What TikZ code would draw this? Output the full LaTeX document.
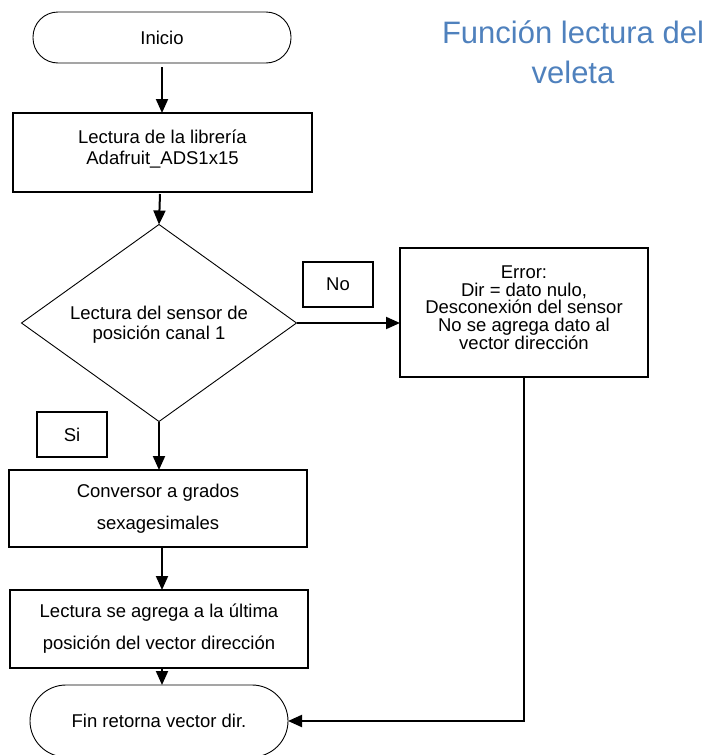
\documentclass[tikz,border=0pt]{standalone}
\usepackage{fontspec}
\setmainfont{Liberation Sans}
\usetikzlibrary{shapes.geometric,arrows.meta}
\definecolor{titleblue}{HTML}{4F81BD}
\tikzset{
  x=1pt,y=1pt,
  every node/.style={inner sep=0pt,outer sep=0pt,align=center},
  term/.style={draw,line width=0.9pt,rounded corners=#1,minimum width=258,font=\fontsize{18.5}{21}\selectfont},
  procbox/.style={draw,line width=2.2pt,font=\fontsize{18.5}{#1}\selectfont},
  labelbox/.style={draw,line width=1.6pt,minimum width=70,minimum height=45,font=\fontsize{18.5}{21}\selectfont},
  decision/.style={draw,line width=0.9pt,shape=diamond,aspect=1.396,minimum width=275,minimum height=197,font=\fontsize{18.5}{20}\selectfont},
  flow/.style={line width=2pt,-{Triangle[length=14pt,width=12pt]}}
}
\begin{document}
\begin{tikzpicture}
\useasboundingbox (0,0) rectangle (712,-755);
\node[term=25pt,minimum height=51] (inicio) at (162,-37.5) {Inicio};
\node[procbox=21.5,minimum width=299,minimum height=79,text depth=11pt] (lib) at (162.5,-152.5) {Lectura de la librería\\Adafruit\_ADS1x15};
\node[decision,text depth=-6pt] (dec) at (159,-323) {Lectura del sensor de\\posición canal 1};
\node[labelbox] (no) at (338,-284.5) {No};
\node[procbox=17.8,minimum width=248,minimum height=129,text depth=10pt] (err) at (524,-312.5) {Error:\\Dir = dato nulo,\\Desconexión del sensor\\No se agrega dato al\\vector dirección};
\node[labelbox] (si) at (72,-434.5) {Si};
\node[procbox=32,minimum width=298,minimum height=77] (conv) at (158,-508.5) {Conversor a grados\\sexagesimales};
\node[procbox=32,minimum width=298,minimum height=78] (agr) at (159,-629) {Lectura se agrega a la última\\posición del vector dirección};
\node[term=36pt,minimum height=72] (fin) at (159,-721) {Fin retorna vector dir.};
\node[anchor=base,text=titleblue,font=\fontsize{31}{40}\selectfont] (title) at (573,-83) {Función lectura del\\veleta};
\draw[flow] ([yshift=-4pt]inicio.south -| 162,0) -- (162,0 |- lib.north);
\draw[flow] ([yshift=-2pt]lib.south -| 160,0) -- (dec.north);
\draw[flow] (dec.east) -- (err.west |- dec.east);
\draw[flow] (dec.south) -- (dec.south |- conv.north);
\draw[flow] (162,0 |- conv.south) -- (162,0 |- agr.north);
\draw[flow] (162,0 |- agr.south) -- (162,0 |- fin.north);
\draw[flow] (err.south) -- (err.south |- fin.east) -- (fin.east);
\end{tikzpicture}
\end{document}
